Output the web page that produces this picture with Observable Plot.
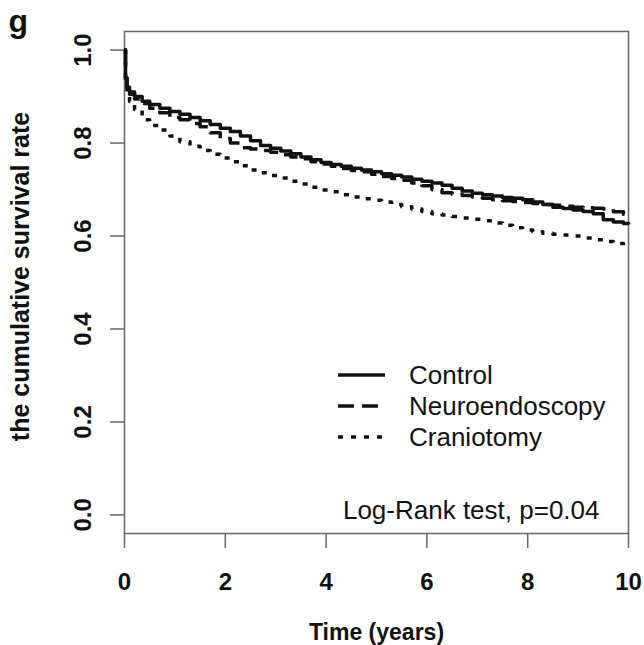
<!DOCTYPE html>
<html>
<head>
<meta charset="utf-8">
<script src="https://cdn.jsdelivr.net/npm/d3@7"></script>
<script src="https://cdn.jsdelivr.net/npm/@observablehq/plot@0.6"></script>
<style>
  html, body { margin: 0; padding: 0; background: #fff; }
  #chart svg { display: block; }
</style>
</head>
<body>
<div id="chart"></div>
<script>
// ---- data ----
const times = [0, 0.02, 0.05, 0.1, 0.2, 0.35, 0.5, 0.7, 0.9, 1.1, 1.3, 1.5, 1.7, 1.9, 2.1, 2.3, 2.5, 2.7, 2.9, 3.1, 3.3, 3.5, 3.7, 3.9, 4.1, 4.3, 4.5, 4.7, 4.9, 5.1, 5.3, 5.5, 5.7, 5.9, 6.1, 6.3, 6.5, 6.7, 6.9, 7.1, 7.3, 7.5, 7.7, 7.9, 8.1, 8.3, 8.5, 8.7, 8.9, 9.1, 9.3, 9.5, 9.7, 9.9, 10];
const controlSurv = [1.0, 0.94, 0.92, 0.91, 0.90, 0.89, 0.883, 0.875, 0.868, 0.862, 0.855, 0.848, 0.84, 0.832, 0.825, 0.815, 0.805, 0.795, 0.789, 0.783, 0.777, 0.77, 0.764, 0.758, 0.754, 0.75, 0.746, 0.742, 0.738, 0.734, 0.731, 0.727, 0.722, 0.718, 0.714, 0.709, 0.703, 0.697, 0.692, 0.689, 0.686, 0.683, 0.681, 0.678, 0.673, 0.668, 0.662, 0.659, 0.656, 0.653, 0.648, 0.635, 0.630, 0.627, 0.625];
const neuroSurv = [1.0, 0.94, 0.92, 0.905, 0.895, 0.885, 0.875, 0.865, 0.855, 0.85, 0.842, 0.835, 0.822, 0.81, 0.80, 0.79, 0.787, 0.784, 0.78, 0.775, 0.77, 0.766, 0.76, 0.755, 0.75, 0.745, 0.741, 0.738, 0.733, 0.728, 0.724, 0.72, 0.714, 0.708, 0.70, 0.693, 0.69, 0.687, 0.684, 0.681, 0.678, 0.676, 0.674, 0.672, 0.67, 0.668, 0.666, 0.664, 0.662, 0.661, 0.66, 0.658, 0.652, 0.647, 0.645];
const cranioSurv = [1.0, 0.93, 0.905, 0.89, 0.872, 0.85, 0.838, 0.828, 0.815, 0.803, 0.793, 0.784, 0.776, 0.768, 0.76, 0.751, 0.742, 0.736, 0.73, 0.725, 0.718, 0.712, 0.705, 0.699, 0.695, 0.689, 0.684, 0.68, 0.677, 0.673, 0.668, 0.663, 0.658, 0.653, 0.648, 0.645, 0.642, 0.639, 0.636, 0.633, 0.628, 0.623, 0.618, 0.613, 0.609, 0.606, 0.604, 0.602, 0.60, 0.596, 0.592, 0.588, 0.584, 0.58, 0.578];
const groups = ["Control", "Neuroendoscopy", "Craniotomy"];
const dashes = ["none", "16,8", "5,8"];
const xTicks = [0, 2, 4, 6, 8, 10];
const yTicks = [0.0, 0.2, 0.4, 0.6, 0.8, 1.0];
const panelLabel = "g";
const xTitle = "Time (years)";
const yTitle = "the cumulative survival rate";
const testNote = "Log-Rank test, p=0.04";

const seriesValues = [controlSurv, neuroSurv, cranioSurv];
const seriesRows = groups.map((g, gi) => times.map((t, i) => ({group: g, t, s: seriesValues[gi][i]})));

const font = "'Liberation Sans', Arial, Helvetica, sans-serif";
const axisColor = "#666";

function legendMark(index, scales, values, dims) {
  const g = d3.create("svg:g").attr("text-anchor", "start");
  const x0 = dims.marginLeft + 214, x1 = x0 + 47, tx = x0 + 71;
  groups.forEach((name, i) => {
    const y = dims.marginTop + 344 + i * 31;
    g.append("line").attr("x1", x0).attr("x2", x1).attr("y1", y).attr("y2", y)
      .attr("stroke", "#111").attr("stroke-width", 3.5)
      .attr("stroke-dasharray", dashes[i]);
    g.append("text").attr("x", tx).attr("y", y).attr("dy", "0.35em")
      .attr("font-size", 26).attr("fill", "#111").text(name);
  });
  return g.node();
}

const chart = Plot.plot({
  width: 644,
  height: 645,
  marginLeft: 124,
  marginRight: 16,
  marginTop: 31,
  marginBottom: 112,
  style: {fontFamily: font, color: "#111", background: "#fff"},
  x: {domain: [0, 10]},
  y: {domain: [-0.04, 1.04]},
  marks: [
    Plot.frame({stroke: axisColor, strokeWidth: 1.5}),
    Plot.axisX({ticks: xTicks, tickSize: 15, tickPadding: 24, stroke: axisColor, strokeWidth: 1.5,
      fontSize: 24, fontWeight: "bold", fill: "#111", label: null, tickFormat: d => String(d)}),
    Plot.axisY({ticks: yTicks, tickSize: 14, tickPadding: 20, tickRotate: -90, stroke: axisColor, strokeWidth: 1.5,
      fontSize: 24, fontWeight: "bold", fill: "#111", label: null, tickFormat: d => d.toFixed(1)}),
    ...seriesRows.map((rows, i) => Plot.line(rows, {x: "t", y: "s", curve: "step-after", stroke: "#111", strokeWidth: 3.5,
      strokeDasharray: dashes[i], strokeLinecap: "butt"})),
    Plot.text([xTitle], {frameAnchor: "bottom", dy: 99, fontSize: 23, fontWeight: "bold", fill: "#111", textAnchor: "middle", lineAnchor: "middle"}),
    Plot.text([yTitle], {frameAnchor: "left", dx: -104, dy: -6, rotate: -90, fontSize: 25, fontWeight: "bold", fill: "#111", textAnchor: "middle", lineAnchor: "middle"}),
    Plot.text([panelLabel], {frameAnchor: "top-left", dx: -116, dy: -10, textAnchor: "start", lineAnchor: "middle", fontSize: 32, fontWeight: "bold", fill: "#111"}),
    Plot.text([testNote], {frameAnchor: "bottom-right", dx: -29, dy: -23, textAnchor: "end", lineAnchor: "middle", fontSize: 26, fill: "#111"}),
    legendMark
  ]
});
document.getElementById("chart").append(chart);
</script>
</body>
</html>
